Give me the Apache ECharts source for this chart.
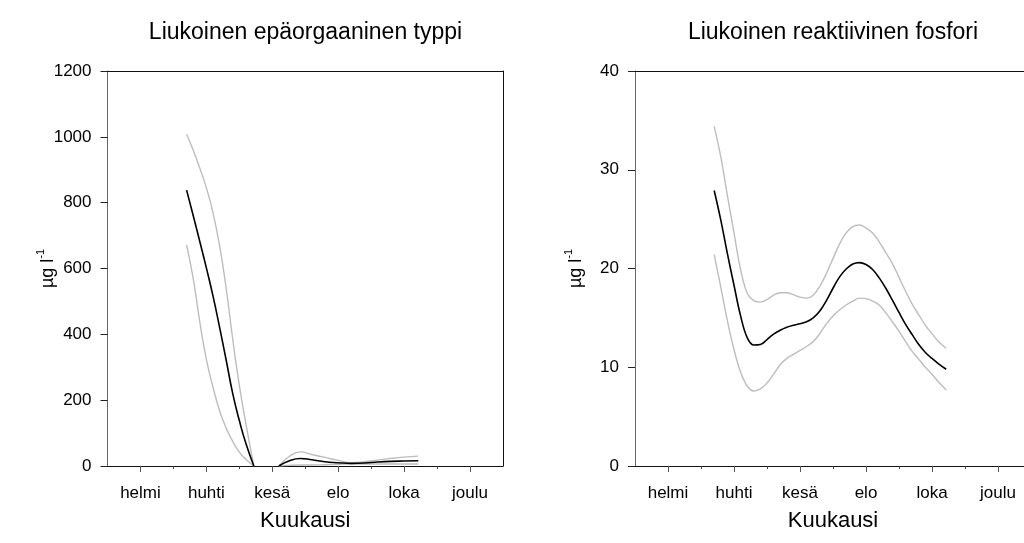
<!DOCTYPE html>
<html>
<head>
<meta charset="utf-8">
<script src="https://cdn.jsdelivr.net/npm/echarts@6/dist/echarts.min.js"></script>
<style>
  html, body { margin: 0; padding: 0; background: #fff; }
  #chart { width: 1024px; height: 543px; }
</style>
</head>
<body>
<div id="chart"></div>
<script>
// Month axis: 0 = start of January, 12 = end of December
const tickMonths = [1, 3, 5, 7, 9, 11];
const monthNames = ['helmi', 'huhti', 'kesä', 'elo', 'loka', 'joulu'];
const minorMonths = [2, 4, 6, 8, 10];

// Dissolved inorganic nitrogen (µg/l): fitted mean and confidence band
const nMonths = [2.4, 2.6, 2.8, 3.0, 3.2, 3.4, 3.6, 3.8, 4.0, 4.2, 4.44, 4.8, 5.2, 5.5, 5.85, 6.2, 6.6, 7.0, 7.4, 7.8, 8.2, 8.6, 9.0, 9.43];
const nMean  = [838, 761, 682, 602, 517, 422, 322, 220, 138, 68, 0, null, 0, 15, 23, 19, 13, 10, 8, 9, 12, 14, 15, 16];
const nUpper = [1008, 960, 905, 845, 770, 670, 540, 385, 245, 128, 0, null, 0, 28, 43, 35, 26, 17, 10, 13, 18, 23, 27, 30];
const nLower = [672, 570, 438, 324, 240, 168, 115, 75, 42, 20, 0, null, 0, 2, 3, 3, 4, 5, 6, 6, 6, 6, 6, 6];

// Dissolved reactive phosphorus (µg/l): fitted mean and confidence band
const pMonths = [2.4, 2.6, 2.8, 3.0, 3.2, 3.4, 3.6, 3.8, 4.0, 4.2, 4.4, 4.6, 4.8, 5.0, 5.2, 5.4, 5.6, 5.8,
                 6.0, 6.2, 6.4, 6.6, 6.8, 7.0, 7.2, 7.4, 7.6, 7.8, 8.0, 8.2, 8.4, 8.6, 8.8, 9.0, 9.2, 9.43];
const pMean  = [27.9, 24.9, 21.5, 18.3, 15.2, 13.0, 12.25, 12.3, 12.8, 13.35, 13.75, 14.05, 14.25, 14.4, 14.6, 15.0, 15.7, 16.75,
                18.0, 19.15, 19.95, 20.45, 20.6, 20.4, 19.9, 19.05, 18.0, 16.8, 15.55, 14.35, 13.3, 12.3, 11.5, 10.9, 10.35, 9.8];
const pUpper = [34.4, 31.3, 27.4, 23.6, 19.9, 17.5, 16.75, 16.6, 16.85, 17.3, 17.55, 17.55, 17.35, 17.1, 17.0, 17.3, 18.2, 19.5,
                21.0, 22.5, 23.6, 24.25, 24.4, 24.1, 23.6, 22.7, 21.6, 20.5, 19.1, 17.7, 16.4, 15.3, 14.25, 13.4, 12.6, 11.9];
const pLower = [21.4, 18.1, 14.7, 11.8, 9.5, 8.1, 7.6, 7.8, 8.4, 9.3, 10.25, 10.9, 11.3, 11.7, 12.1, 12.6, 13.4, 14.4,
                15.2, 15.8, 16.3, 16.7, 17.0, 16.95, 16.7, 16.3, 15.5, 14.6, 13.65, 12.6, 11.6, 10.8, 10.0, 9.3, 8.5, 7.7];

const panelTitles = ['Liukoinen epäorgaaninen typpi', 'Liukoinen reaktiivinen fosfori'];
const xTitle = 'Kuukausi';
const yMax = [1200, 40];
const yStep = [200, 10];

const FONT = '"Liberation Sans", Arial, Helvetica, sans-serif';
const grids = [
  { left: 107.5, top: 71, width: 395.5, height: 395, outerBoundsMode: 'none' },
  { left: 635, top: 71, width: 396, height: 395, outerBoundsMode: 'none' }
];

const pairs = (xs, ys) => xs.map((x, i) => [x, ys[i]]);

const xAxis = [];
const yAxis = [];
grids.forEach((g, gi) => {
  // axis line with the short in-between ticks
  xAxis.push({
    type: 'value', gridIndex: gi, min: 0, max: 12, interval: 1, position: 'bottom',
    axisLine: { show: true, lineStyle: { color: '#111', width: 1 } },
    axisTick: { show: true, customValues: minorMonths, length: 3, lineStyle: { color: '#444' } },
    axisLabel: { show: false }, splitLine: { show: false }
  });
  // labelled month ticks
  xAxis.push({
    type: 'value', gridIndex: gi, min: 0, max: 12, interval: 1, position: 'bottom',
    axisLine: { show: false },
    axisTick: { show: true, customValues: tickMonths, length: 6, lineStyle: { color: '#555' } },
    axisLabel: {
      show: true, customValues: tickMonths, margin: 19,
      fontFamily: FONT, fontSize: 17, color: '#000',
      formatter: v => monthNames[tickMonths.indexOf(v)]
    },
    splitLine: { show: false },
    name: xTitle, nameLocation: 'middle', nameGap: 44, nameMoveOverlap: false,
    nameTextStyle: { fontFamily: FONT, fontSize: 22, color: '#000' }
  });
  // frame top
  xAxis.push({
    type: 'value', gridIndex: gi, min: 0, max: 12, position: 'top',
    axisLine: { show: true, lineStyle: { color: '#111', width: 1 } },
    axisTick: { show: false }, axisLabel: { show: false }, splitLine: { show: false }
  });
  yAxis.push({
    type: 'value', gridIndex: gi, min: 0, max: yMax[gi], interval: yStep[gi], position: 'left',
    axisLine: { show: true, lineStyle: { color: '#666', width: 1 } },
    axisTick: { show: true, length: 7, lineStyle: { color: '#222' } },
    axisLabel: { margin: 16, fontFamily: FONT, fontSize: 17, color: '#000', formatter: v => String(v) },
    splitLine: { show: false },
    name: '{n|µg l}{s|-1}', nameLocation: 'middle', nameRotate: 90, nameGap: 50, nameMoveOverlap: false,
    nameTextStyle: {
      fontFamily: FONT, color: '#000',
      rich: {
        n: { fontFamily: FONT, fontSize: 18, lineHeight: 22, color: '#000', verticalAlign: 'bottom' },
        s: { fontFamily: FONT, fontSize: 11, lineHeight: 22, color: '#000', verticalAlign: 'top' }
      }
    }
  });
  // frame right
  yAxis.push({
    type: 'value', gridIndex: gi, min: 0, max: 1, position: 'right',
    axisLine: { show: true, onZero: false, lineStyle: { color: '#111', width: 1 } },
    axisTick: { show: false }, axisLabel: { show: false }, splitLine: { show: false }
  });
});

const line = (gi, xs, ys, color, width, smooth) => ({
  type: 'line', xAxisIndex: gi * 3, yAxisIndex: gi * 2,
  data: pairs(xs, ys), showSymbol: false, smooth: smooth, connectNulls: false,
  lineStyle: { color: color, width: width }, silent: true, z: 3
});

const GREY = '#bdbdbd';
const series = [
  line(0, nMonths, nUpper, GREY, 1.4, 0.5),
  line(0, nMonths, nLower, GREY, 1.4, 0.5),
  line(0, nMonths, nMean, '#000', 1.6, 0.5),
  line(1, pMonths, pUpper, GREY, 1.4, 0.4),
  line(1, pMonths, pLower, GREY, 1.4, 0.4),
  line(1, pMonths, pMean, '#000', 1.6, 0.4)
];

const chart = echarts.init(document.getElementById('chart'), null, { renderer: 'canvas' });
chart.setOption({
  animation: false,
  backgroundColor: '#fff',
  grid: grids,
  xAxis: xAxis,
  yAxis: yAxis,
  series: series,
  graphic: panelTitles.map((t, i) => ({
    type: 'text',
    x: grids[i].left + 198, y: 33,
    style: { text: t, fontFamily: FONT, fontSize: 23, fill: '#000', textAlign: 'center', textVerticalAlign: 'middle' }
  }))
});
</script>
</body>
</html>
